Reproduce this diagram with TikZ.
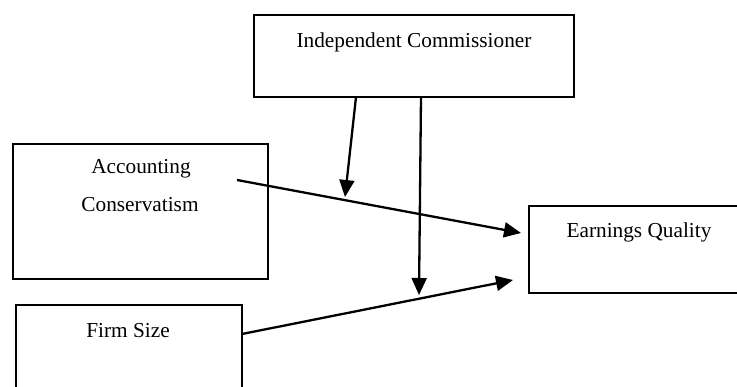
\documentclass[tikz,border=0pt]{standalone}
\usepackage{fontspec}
\setmainfont{Liberation Serif}
\usetikzlibrary{arrows.meta}
\begin{document}
\begin{tikzpicture}[x=1pt,y=-1pt,
  box/.style={draw,line width=2.6pt,inner sep=0pt},
  lbl/.style={font=\fontsize{21.3}{25}\selectfont,inner sep=0pt,anchor=base},
  arr/.style={line width=2.3pt,-{Triangle[length=17pt,width=15pt]}}]
\useasboundingbox (0,0) rectangle (737,387);
\clip (0,0) rectangle (737,387);
% boxes
\node[box,minimum width=320pt,minimum height=82pt] (ic) at (414,56) {};
\node[box,minimum width=255pt,minimum height=135pt] (ac) at (140.5,211.5) {};
\node[box,minimum width=221pt,minimum height=87pt] (eq) at (639.5,249.5) {};
\node[box,minimum width=226pt,minimum height=115pt] (fs) at (129,362.5) {};
% texts
\node[lbl] (icT) at (414,48) {Independent Commissioner};
\node[lbl] (acT1) at (141,174) {Accounting};
\node[lbl] (acT2) at (140,212) {Conservatism};
\node[lbl] (eqT) at (639,238) {Earnings Quality};
\node[lbl] (fsT) at (128,338) {Firm Size};
% connectors
\coordinate (a0) at (237,180);
\coordinate (a1) at (521,233);
\coordinate (f0) at (242,334);
\coordinate (f1) at (513,280);
\coordinate (i1s) at (356,97);
\coordinate (i1e) at (345,197);
\coordinate (i2s) at (421,97);
\coordinate (i2e) at (419,295);
\draw[arr] (a0) -- (a1);
\draw[arr] (f0) -- (f1);
\draw[arr] (i1s) -- (i1e);
\draw[arr] (i2s) -- (i2e);
\end{tikzpicture}
\end{document}
